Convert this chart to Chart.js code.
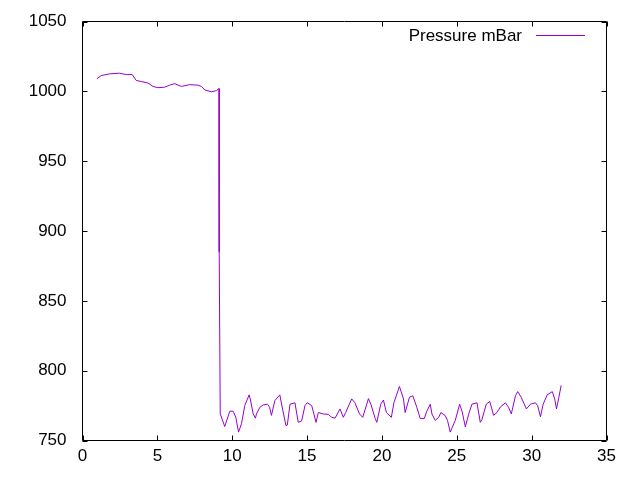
<!DOCTYPE html>
<html>
<head>
<meta charset="utf-8">
<script src="https://cdn.jsdelivr.net/npm/chart.js@4"></script>
<style>
  html, body { margin: 0; padding: 0; background: #fff; }
  canvas { display: block; }
</style>
</head>
<body>
<canvas id="chart" width="640" height="480"></canvas>
<script>
// time (x) and pressure (y) readings
const timeValues = [
  0.96, 1.25, 1.81, 2.48, 2.92, 3.32, 3.59, 3.93, 4.37, 4.71, 5.04, 5.49, 5.82, 6.16, 6.6, 7.16, 7.72, 7.94, 8.17, 8.61, 8.95, 9.12,
  9.13, 9.2,
  9.5, 9.84, 10.06, 10.24, 10.42, 10.62, 10.84, 11.13, 11.22, 11.4, 11.55, 11.62, 11.85, 12.07, 12.36, 12.5, 12.62, 12.85, 13.18,
  13.36, 13.59, 13.68, 13.86, 14.19, 14.41, 14.64, 14.86, 15.01, 15.31, 15.6, 15.75, 16.09, 16.42, 16.64, 16.87, 17.2, 17.42,
  17.58, 17.98, 18.2, 18.5, 18.72, 19.1, 19.26, 19.55, 19.66, 19.92, 20.1, 20.3, 20.63, 20.8, 21.17, 21.44, 21.55, 21.84,
  22.06, 22.33, 22.56, 22.83, 23.0, 23.23, 23.34, 23.56, 23.79, 23.94, 24.23, 24.38, 24.56, 24.9, 25.19, 25.35, 25.57, 25.8,
  26.01, 26.35, 26.57, 26.68, 26.97, 27.2, 27.46, 27.68, 27.91, 28.25, 28.46, 28.64, 28.92, 29.07, 29.3, 29.65, 29.92, 30.25,
  30.4, 30.59, 30.77, 31.04, 31.38, 31.54, 31.66, 31.82, 31.97
];
const pressureValues = [
  1009, 1011.3, 1012.5, 1013, 1012, 1012, 1007.8, 1007, 1006, 1003.5, 1002.6, 1003, 1004.4, 1005.5, 1003.5, 1004.8, 1004.4, 1003.5, 1001, 999.7, 1000.5, 1002,
  885, 769,
  760, 771, 771, 766.7, 756, 762, 775, 782.7, 779, 769, 766, 769, 773.8, 775.5, 776, 773.8, 768, 778.6, 782.7,
  772.6, 760.7, 761, 776, 777, 763, 764, 775, 777, 775, 763, 770, 769, 768.7, 766.6, 766, 772.6, 766.6,
  770, 779.8, 777, 769, 766.6, 780, 776, 765.7, 763, 776, 779, 770, 766.6, 777, 788.7, 779.8, 770, 781,
  782, 773.8, 765.7, 765.7, 771, 776, 769, 764.4, 766.6, 770, 767.8, 764.4, 756, 764.4, 776, 771, 759.8, 769,
  776, 777, 763, 765, 776, 778, 768, 770, 774, 777, 773.8, 769, 782, 785, 781, 772.6, 776, 777,
  775, 767, 776, 782.7, 785, 779.8, 772.6, 781, 789.4
];
const xTicks = [0, 5, 10, 15, 20, 25, 30, 35];
const yTicks = [750, 800, 850, 900, 950, 1000, 1050];
const seriesName = 'Pressure mBar';

const points = timeValues.map((t, i) => ({ x: t, y: pressureValues[i] }));
const fontFamily = '"Liberation Sans", Arial, sans-serif';

// gnuplot-like frame, inward ticks on all sides and key in the top right
const gnuplotFrame = {
  id: 'gnuplotFrame',
  afterDatasetsDraw(chart) {
    const ctx = chart.ctx;
    const a = chart.chartArea;
    const xs = chart.scales.x, ys = chart.scales.y;
    const tick = 5;
    ctx.save();
    ctx.strokeStyle = '#000';
    ctx.lineWidth = 1;
    ctx.beginPath();
    ctx.rect(a.left, a.top, a.right - a.left, a.bottom - a.top);
    xTicks.forEach(v => {
      const px = Math.round(xs.getPixelForValue(v)) + 0.5;
      ctx.moveTo(px, a.bottom); ctx.lineTo(px, a.bottom - tick);
      ctx.moveTo(px, a.top); ctx.lineTo(px, a.top + tick);
    });
    yTicks.forEach(v => {
      const py = Math.round(ys.getPixelForValue(v)) + 0.5;
      ctx.moveTo(a.left, py); ctx.lineTo(a.left + tick, py);
      ctx.moveTo(a.right, py); ctx.lineTo(a.right - tick, py);
    });
    ctx.stroke();

    // key
    ctx.font = '17px ' + fontFamily;
    ctx.fillStyle = '#000';
    ctx.textAlign = 'right';
    ctx.textBaseline = 'middle';
    ctx.fillText(seriesName, 522, 36);
    ctx.strokeStyle = '#9400d3';
    ctx.beginPath();
    ctx.moveTo(536, 35.5); ctx.lineTo(585, 35.5);
    ctx.stroke();
    ctx.restore();
  }
};

new Chart(document.getElementById('chart'), {
  type: 'line',
  data: {
    datasets: [{
      label: seriesName,
      data: points,
      borderColor: '#9400d3',
      borderWidth: 1,
      pointRadius: 0,
      fill: false,
      tension: 0
    }]
  },
  options: {
    responsive: false,
    animation: false,
    devicePixelRatio: 1,
    layout: { padding: { left: 0, right: 33.5, top: 21.5, bottom: 0 } },
    scales: {
      x: {
        type: 'linear',
        min: 0, max: 35,
        afterBuildTicks: s => { s.ticks = xTicks.map(v => ({ value: v })); },
        afterFit: s => { s.height = 39.5; s.paddingLeft = 0; s.paddingRight = 0; },
        grid: { display: false, drawTicks: false },
        border: { display: false },
        ticks: { color: '#000', padding: 6, maxRotation: 0, callback: v => String(v), font: { family: fontFamily, size: 17 } }
      },
      y: {
        min: 750, max: 1050,
        afterBuildTicks: s => { s.ticks = yTicks.map(v => ({ value: v })); },
        afterFit: s => { s.width = 82.5; s.paddingTop = 0; s.paddingBottom = 0; },
        grid: { display: false, drawTicks: false },
        border: { display: false },
        ticks: { color: '#000', padding: 16, callback: v => String(v), font: { family: fontFamily, size: 17 } }
      }
    },
    plugins: {
      legend: { display: false },
      tooltip: { enabled: false }
    }
  },
  plugins: [gnuplotFrame]
});
</script>
</body>
</html>
